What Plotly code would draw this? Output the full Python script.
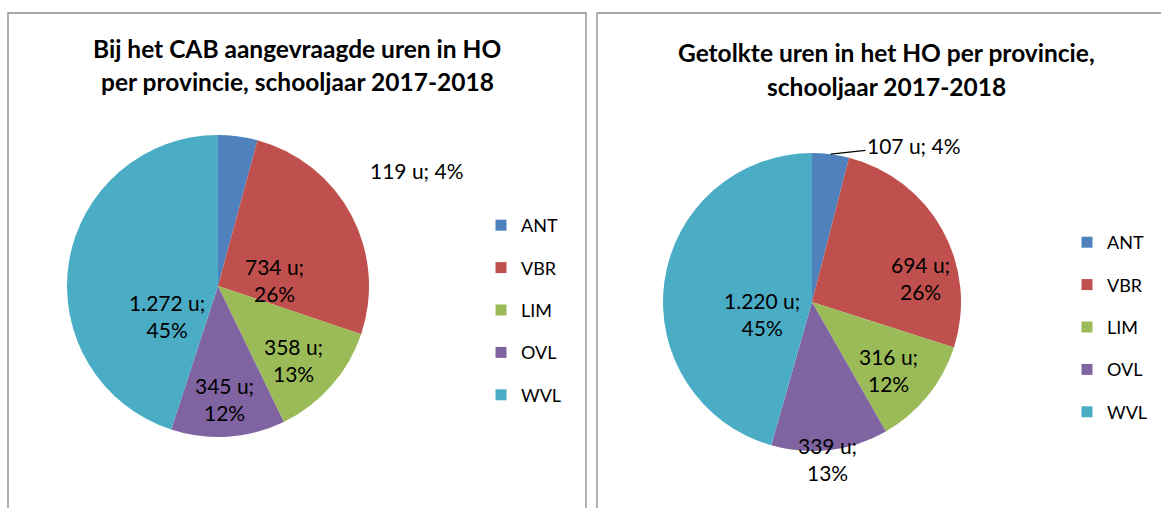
import numpy as np
import plotly.graph_objects as go

# ---------------- data ----------------
provinces = ["ANT", "VBR", "LIM", "OVL", "WVL"]
colors = ["#4F81BD", "#C0504D", "#9BBB59", "#8064A2", "#4BACC6"]
requested_hours = [119, 734, 358, 345, 1272]
requested_pct = [4, 26, 13, 12, 45]
interpreted_hours = [107, 694, 316, 339, 1220]
interpreted_pct = [4, 26, 12, 13, 45]
title_left = ["Bij het CAB aangevraagde uren in HO", "per provincie, schooljaar 2017-2018"]
title_right = ["Getolkte uren in het HO per provincie,", "schooljaar 2017-2018"]

# ---------------- layout constants (pixels) ----------------
W, H = 1161, 508
FONT = "Lato, 'Open Sans', sans-serif"
left_pie = dict(cx=218, cy=286, r=151)
right_pie = dict(cx=812, cy=302, r=149)
# label placement (offset of label centre from pie centre, px), as Excel "best fit"
left_label_offsets = [(199, -116), (56, -6), (75, 74), (6, 113), (-51, 30)]
right_label_offsets = [None, (108, -24), (76, 68), (15, 157), (-50, 12)]
right_ant_text_center = (914, 145)


def px(x):
    return x / W


def py(y):
    return 1 - y / H


def domain(p):
    return dict(x=[px(p["cx"] - p["r"]), px(p["cx"] + p["r"])],
                y=[py(p["cy"] + p["r"]), py(p["cy"] - p["r"])])


def fmt_hours(v):
    return "{:,}".format(v).replace(",", ".")


fig = go.Figure()

for hours, pct, p in [(requested_hours, requested_pct, left_pie),
                      (interpreted_hours, interpreted_pct, right_pie)]:
    fig.add_trace(go.Pie(
        labels=provinces, values=hours, customdata=pct,
        sort=False, direction="clockwise", rotation=0,
        marker=dict(colors=colors, line=dict(color="white", width=0)),
        domain=domain(p), textinfo="none",
        hovertemplate="%{label}: %{value} u; %{customdata}%<extra></extra>",
        showlegend=False,
    ))

# legend entries (one group per province so they can be spaced like Excel)
for legend_name in ["legend", "legend2"]:
    for name, col in zip(provinces, colors):
        fig.add_trace(go.Scatter(
            x=[None], y=[None], mode="markers", name=name,
            marker=dict(symbol="square", size=11, color=col),
            legend=legend_name, legendgroup=legend_name + name,
            showlegend=True, hoverinfo="skip",
        ))

annotations = []
label_font = dict(family=FONT, size=21, color="black")

# titles
for lines, cx, ys in [(title_left, 297, (48, 82)), (title_right, 886, (52, 86))]:
    for line, y in zip(lines, ys):
        annotations.append(dict(
            text="<b>%s</b>" % line, x=px(cx), y=py(y), xref="paper", yref="paper",
            xanchor="center", yanchor="middle", showarrow=False,
            font=dict(family=FONT, size=24.5, color="black")))

# data labels
for hours, pct, p, offsets in [(requested_hours, requested_pct, left_pie, left_label_offsets),
                               (interpreted_hours, interpreted_pct, right_pie, right_label_offsets)]:
    for i, (v, pc, off) in enumerate(zip(hours, pct, offsets)):
        if off is None:
            continue
        sep = "; " if i == 0 else ";<br>"
        annotations.append(dict(
            text="%s u%s%d%%" % (fmt_hours(v), sep, pc),
            x=px(p["cx"] + off[0]), y=py(p["cy"] + off[1]), xref="paper", yref="paper",
            xanchor="center", yanchor="middle", showarrow=False, font=label_font))


# ANT label of right pie with leader line to the slice edge
def slice_edge(hours, p, i):
    frac = np.cumsum([0] + list(hours)) / np.sum(hours)
    mid = (frac[i] + frac[i + 1]) / 2 * 2 * np.pi
    return p["cx"] + p["r"] * np.sin(mid), p["cy"] - p["r"] * np.cos(mid)


ex, ey = slice_edge(interpreted_hours, right_pie, 0)
annotations.append(dict(
    text="%s u; %d%%" % (fmt_hours(interpreted_hours[0]), interpreted_pct[0]),
    x=px(ex), y=py(ey), xref="paper", yref="paper",
    showarrow=True, arrowhead=0, arrowwidth=1.2, arrowcolor="black",
    ax=right_ant_text_center[0] - ex, ay=right_ant_text_center[1] - ey, standoff=0,
    font=label_font))

shapes = [
    dict(type="rect", xref="paper", yref="paper", x0=px(8), x1=px(586), y0=-0.1, y1=py(13),
         line=dict(color="#898989", width=1.3), fillcolor="rgba(0,0,0,0)"),
    dict(type="rect", xref="paper", yref="paper", x0=px(597), x1=px(1180), y0=-0.1, y1=py(13),
         line=dict(color="#898989", width=1.3), fillcolor="rgba(0,0,0,0)"),
]

legend_common = dict(font=dict(family=FONT, size=18, color="black"),
                     tracegroupgap=16, bgcolor="rgba(0,0,0,0)", borderwidth=0,
                     xanchor="left", yanchor="top", itemclick=False, itemdoubleclick=False)

fig.update_layout(
    width=W, height=H, margin=dict(l=0, r=0, t=0, b=0),
    paper_bgcolor="white", plot_bgcolor="white",
    font=dict(family=FONT, color="black"),
    xaxis=dict(visible=False), yaxis=dict(visible=False),
    annotations=annotations, shapes=shapes,
    legend=dict(x=px(481), y=py(207), **legend_common),
    legend2=dict(x=px(1067), y=py(224), **legend_common),
)

fig.write_html("out.html", config={"displayModeBar": False},
               post_script="document.body.style.margin='0';document.body.style.padding='0';")
